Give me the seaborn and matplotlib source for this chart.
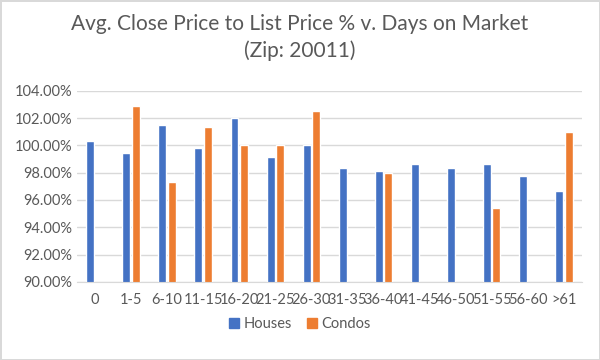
import numpy as np
import pandas as pd
import matplotlib
matplotlib.use("Agg")
import matplotlib.pyplot as plt
import seaborn as sns
from matplotlib.patches import Patch
from matplotlib.ticker import PercentFormatter

# data
days = ["0", "1-5", "6-10", "11-15", "16-20", "21-25", "26-30", "31-35",
        "36-40", "41-45", "46-50", "51-55", "56-60", ">61"]
houses = [100.3, 99.45, 101.5, 99.8, 102.0, 99.15, 100.0, 98.35,
          98.15, 98.6, 98.35, 98.6, 97.75, 96.65]
condos = [np.nan, 102.9, 97.35, 101.35, 100.0, 100.0, 102.55, np.nan,
          97.95, np.nan, np.nan, 95.4, np.nan, 101.0]
series = ["Houses", "Condos"]
colors = ["#4472C4", "#ED7D31"]

df = pd.DataFrame({
    "days": days * 2,
    "type": ["Houses"] * len(days) + ["Condos"] * len(days),
    "value": houses + condos,
}).dropna()

sns.set_style("white")
plt.rcParams["font.family"] = ["Lato", "DejaVu Sans"]

fig = plt.figure(figsize=(6, 3.6), dpi=100, edgecolor="#d9d9d9", linewidth=2)
ax = fig.add_axes([0.128, 0.217, 0.842, 0.531])

sns.barplot(data=df, x="days", y="value", hue="type", order=days,
            hue_order=series, palette=colors, errorbar=None,
            width=0.52, gap=0.15, saturation=1, ax=ax, legend=False, zorder=2)

ax.set_ylim(90, 104)
ax.set_yticks(np.arange(90, 104.1, 2))
ax.yaxis.set_major_formatter(PercentFormatter(decimals=2))
ax.grid(axis="y", color="#d9d9d9", linewidth=1, zorder=0)
ax.set_axisbelow(True)
for s in ["top", "right", "left"]:
    ax.spines[s].set_visible(False)
ax.spines["bottom"].set_color("#d9d9d9")
ax.set_xlabel("")
ax.set_ylabel("")
ax.tick_params(axis="both", length=0, labelsize=10.5, colors="#595959")
ax.tick_params(axis="x", pad=8)

fig.text(0.5, 0.96, "Avg. Close Price to List Price % v. Days on Market\n(Zip: 20011)",
         ha="center", va="top", fontsize=15, color="#595959", linespacing=1.35)

handles = [Patch(color=c, label=s) for s, c in zip(series, colors)]
fig.legend(handles=handles, loc="center", bbox_to_anchor=(0.5, 0.1), ncol=2,
           frameon=False, fontsize=10.5, handlelength=0.7, handleheight=0.7,
           handletextpad=0.3, columnspacing=1.0, labelcolor="#595959")

fig.savefig("out.png", dpi=100, edgecolor=fig.get_edgecolor())
